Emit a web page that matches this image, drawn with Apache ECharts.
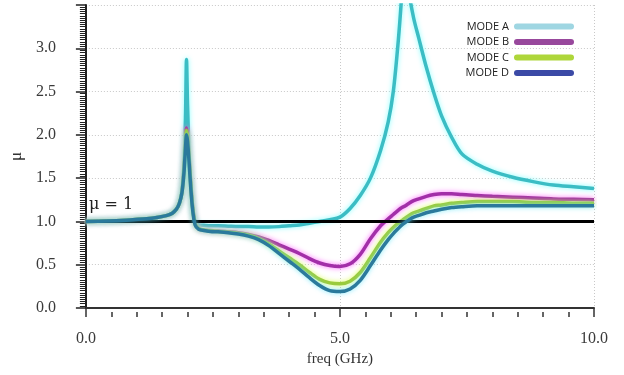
<!DOCTYPE html>
<html>
<head>
<meta charset="utf-8">
<script src="https://cdn.jsdelivr.net/npm/echarts@6/dist/echarts.min.js"></script>
<style>html,body{margin:0;padding:0;background:#fff;}#c{width:624px;height:375px;}</style>
</head>
<body>
<div id="c"></div>
<script>
const freq = [0, 0.4, 0.8, 1.2, 1.4, 1.6, 1.7, 1.78, 1.84, 1.89,
  1.93, 1.96, 1.98, 2.0, 2.03, 2.06, 2.1, 2.15, 2.22, 2.32,
  2.45, 2.6, 2.8, 3.0, 3.2, 3.4, 3.6, 3.8, 4.0, 4.2,
  4.4, 4.6, 4.8, 5.0, 5.2, 5.4, 5.6, 5.8, 5.95, 6.05,
  6.15, 6.22, 6.29, 6.36, 6.45, 6.55, 6.7, 6.85, 7.0, 7.2,
  7.4, 7.7, 8.0, 8.4, 8.8, 9.2, 9.6, 10.0];
const modeA = [1.00, 1.005, 1.015, 1.03, 1.045, 1.07, 1.095, 1.14, 1.21, 1.36,
  1.65, 2.20, 2.87, 2.35, 1.80, 1.45, 1.15, 1.00, 0.96, 0.955,
  0.95, 0.95, 0.945, 0.94, 0.94, 0.935, 0.935, 0.94, 0.95, 0.96,
  0.98, 1.00, 1.02, 1.05, 1.15, 1.30, 1.50, 1.82, 2.15, 2.50,
  3.10, 3.65, 4.30, 3.65, 3.35, 3.12, 2.78, 2.48, 2.22, 1.97,
  1.78, 1.66, 1.58, 1.51, 1.46, 1.42, 1.40, 1.38];
const modeB = [1.00, 1.005, 1.015, 1.03, 1.045, 1.07, 1.095, 1.14, 1.21, 1.33,
  1.60, 1.90, 2.08, 2.00, 1.75, 1.48, 1.18, 0.98, 0.92, 0.90,
  0.895, 0.89, 0.88, 0.87, 0.85, 0.82, 0.78, 0.73, 0.68, 0.63,
  0.57, 0.52, 0.49, 0.48, 0.51, 0.62, 0.80, 0.95, 1.03, 1.08,
  1.13, 1.16, 1.18, 1.21, 1.24, 1.26, 1.29, 1.31, 1.32, 1.32,
  1.31, 1.30, 1.29, 1.28, 1.27, 1.26, 1.255, 1.25];
const modeC = [1.00, 1.005, 1.015, 1.03, 1.045, 1.07, 1.095, 1.14, 1.21, 1.33,
  1.58, 1.88, 2.05, 1.97, 1.72, 1.45, 1.16, 0.97, 0.915, 0.90,
  0.89, 0.885, 0.875, 0.86, 0.84, 0.80, 0.74, 0.66, 0.58, 0.50,
  0.41, 0.33, 0.29, 0.28, 0.31, 0.41, 0.58, 0.76, 0.87, 0.93,
  0.98, 1.01, 1.04, 1.07, 1.10, 1.12, 1.15, 1.18, 1.19, 1.21,
  1.22, 1.23, 1.23, 1.23, 1.22, 1.22, 1.21, 1.21];
const modeD = [1.00, 1.005, 1.015, 1.03, 1.045, 1.07, 1.095, 1.14, 1.21, 1.33,
  1.56, 1.85, 2.00, 1.93, 1.69, 1.42, 1.14, 0.96, 0.91, 0.895,
  0.885, 0.88, 0.87, 0.855, 0.83, 0.79, 0.72, 0.63, 0.54, 0.45,
  0.35, 0.26, 0.20, 0.19, 0.22, 0.32, 0.49, 0.67, 0.79, 0.86,
  0.92, 0.96, 0.99, 1.02, 1.05, 1.07, 1.10, 1.12, 1.14, 1.16,
  1.17, 1.18, 1.18, 1.18, 1.18, 1.18, 1.18, 1.18];
const refFreq = [0, 10];
const refMu = [1.0, 1.0];
const modeNames = ['MODE A', 'MODE B', 'MODE C', 'MODE D'];
const xTickLabels = [0, 5, 10];

const lineColors   = ['#3bbdc4', '#a22fa8', '#9bcb3c', '#2b7a9c'];
const glowColors   = ['rgba(120,255,255,0.9)', 'rgba(255,90,255,0.9)', 'rgba(220,255,80,0.9)', 'rgba(100,230,255,0.8)'];
const legendColors = ['#9fd6e2', '#98489c', '#aed63a', '#3b4aa6'];
const allModes = [modeA, modeB, modeC, modeD];

const pairs = (xs, ys) => xs.map((x, i) => [x, ys[i]]);
const serifTicks = 'Liberation Serif';

const series = allModes.map((ys, i) => ({
  name: modeNames[i],
  type: 'line',
  data: pairs(freq, ys),
  smooth: 0.3,
  showSymbol: false,
  symbol: 'none',
  clip: true,
  z: 2 + i,
  lineStyle: { color: lineColors[i], width: 3.5, shadowBlur: 5, shadowColor: glowColors[i] },
  itemStyle: { color: lineColors[i] }
}));

series.push({
  name: 'mu1',
  type: 'line',
  data: [],
  silent: true,
  z: 10,
  markLine: {
    silent: true,
    symbol: 'none',
    lineStyle: { color: '#000', width: 3, type: 'solid' },
    label: { show: true, position: 'insideStartTop', formatter: 'μ = 1', distance: [3, 9],
      fontFamily: 'DejaVu Serif', fontSize: 16, color: '#222' },
    data: [[{ coord: [refFreq[0], refMu[0]] }, { coord: [refFreq[1], refMu[1]] }]]
  }
});

const pill = 'path://M3,0 L57,0 A3,3 0 0 1 57,6 L3,6 A3,3 0 0 1 3,0 Z';
const dotted = { type: [1, 2], color: '#c8c8c8', width: 1 };

const option = {
  backgroundColor: '#fff',
  animation: false,
  grid: { left: 84, right: 30, top: 5, bottom: 67, containLabel: false },
  legend: {
    orient: 'vertical',
    right: 45,
    top: 16,
    align: 'right',
    itemWidth: 60,
    itemHeight: 6,
    itemGap: 4.5,
    icon: pill,
    textStyle: { fontFamily: 'Open Sans', fontSize: 11, color: '#222' },
    data: modeNames.map((n, i) => ({ name: n, icon: pill, itemStyle: { color: legendColors[i], shadowBlur: 0, borderWidth: 0 } }))
  },
  xAxis: [{
    type: 'value', min: 0, max: 10, interval: 5, offset: 9, position: 'bottom',
    name: 'freq (GHz)', nameLocation: 'middle', nameGap: 33,
    nameTextStyle: { fontFamily: serifTicks, fontSize: 15, color: '#333' },
    axisLine: { show: true, lineStyle: { color: '#333', width: 2 } },
    axisTick: { show: true, length: 8, lineStyle: { color: '#333', width: 1.5 } },
    axisLabel: { margin: 14, fontFamily: serifTicks, fontSize: 16, color: '#3a3a3a',
      formatter: v => xTickLabels.includes(v) ? v.toFixed(1) : '' },
    splitLine: { show: true, lineStyle: dotted }
  }, {
    type: 'value', min: 0, max: 10, interval: 0.5, offset: 9, position: 'bottom',
    axisLine: { show: false },
    axisTick: { show: true, inside: true, length: 5, lineStyle: { color: '#333', width: 1.5 } },
    axisLabel: { show: false },
    splitLine: { show: false }
  }],
  yAxis: {
    type: 'value', min: 0, max: 3.5, interval: 0.5, offset: 14,
    name: 'μ', nameLocation: 'middle', nameGap: 41,
    nameTextStyle: { fontFamily: serifTicks, fontSize: 17, color: '#333' },
    axisLine: { show: true, lineStyle: { color: '#222', width: 2 } },
    axisTick: { show: true, length: 10, lineStyle: { color: '#222', width: 1.5 } },
    minorTick: { show: true, splitNumber: 20, length: 6, lineStyle: { color: '#222', width: 1 } },
    axisLabel: { margin: 16, fontFamily: serifTicks, fontSize: 16, color: '#3a3a3a', showMaxLabel: false,
      formatter: v => v.toFixed(1) },
    splitLine: { show: true, lineStyle: dotted }
  },
  series: series
};

const chart = echarts.init(document.getElementById('c'), null, { renderer: 'canvas' });
chart.setOption(option);
</script>
</body>
</html>
